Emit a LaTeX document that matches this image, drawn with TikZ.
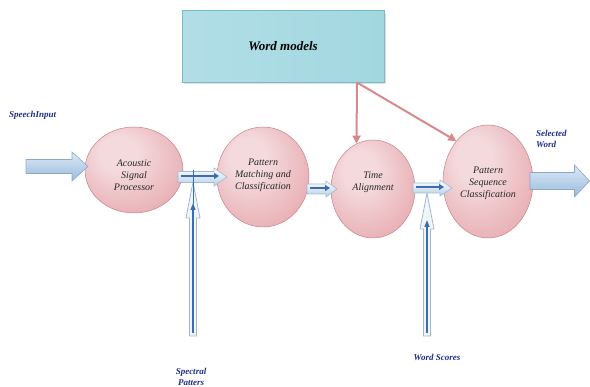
\documentclass[tikz,border=0pt]{standalone}
\usepackage{fontspec}
\setmainfont{Liberation Serif}
\usetikzlibrary{shapes.geometric,arrows.meta,calc}
\definecolor{pk1}{HTML}{F4DADD}
\definecolor{pk2}{HTML}{E8AFB4}
\definecolor{pk3}{HTML}{D4878E}
\definecolor{pkline}{HTML}{C98089}
\definecolor{pkarrow}{HTML}{D9888E}
\definecolor{cy1}{HTML}{86CAD6}
\definecolor{cy2}{HTML}{D6EFF3}
\definecolor{cyline}{HTML}{74BCCB}
\definecolor{bl1}{HTML}{DDEAF6}
\definecolor{bl2}{HTML}{98BBDE}
\definecolor{blline}{HTML}{8AA8C8}
\definecolor{bldark}{HTML}{3B6DB4}
\definecolor{lblue}{HTML}{1E2D8E}
\definecolor{vline}{HTML}{A3B6CC}
\definecolor{vfill}{HTML}{F1F5FA}
\pgfdeclareradialshading{pinkball}{\pgfpoint{-10bp}{12bp}}{color(0bp)=(pk1);color(10bp)=(pk1);color(32bp)=(pk2);color(45bp)=(pk3);color(50bp)=(pk3)}
\newcommand\myblockarrow[6]{%
  \path[#6] ($(#1)+(0,-#3)$) -- ($(#2)+(-#5,-#3)$) -- ($(#2)+(-#5,-#4)$) -- (#2)
    -- ($(#2)+(-#5,#4)$) -- ($(#2)+(-#5,#3)$) -- ($(#1)+(0,#3)$) -- cycle;}
\tikzset{
  ball/.style={ellipse, shading=pinkball, draw=pkline, line width=0.5pt, inner sep=0pt},
  balltext/.style={align=center, font=\fontsize{10}{12}\selectfont\itshape, text=black!85},
  wmbox/.style={rectangle, draw=cyline, line width=0.8pt, left color=cy1!45!cy2, middle color=cy2!70!white, right color=cy1!65!cy2,
    minimum width=202pt, minimum height=72pt, inner sep=0pt, font=\fontsize{13}{15}\selectfont\bfseries\itshape},
  lbl/.style={font=\fontsize{9}{11}\selectfont\bfseries\itshape, text=lblue, inner sep=0pt},
  pkarr/.style={draw=pkarrow, line width=2pt, -{Triangle[width=8pt,length=8pt]}},
  bigarr/.style={draw=blline, line width=0.6pt, top color=bl1, bottom color=bl2},
  smallarr/.style={draw=blline!80, line width=0.6pt, top color=white, bottom color=bl2!70},
  innerarr/.style={draw=bldark, line width=2pt, -{Triangle[width=6pt,length=5pt]}},
  vertarr/.style={draw=vline, line width=0.8pt, fill=vfill},
  vinner/.style={draw=bldark, line width=1.4pt, -{Triangle[width=5pt,length=7pt]}}
}
\begin{document}
\begin{tikzpicture}[x=1pt,y=-1pt]
\useasboundingbox (0,0) rectangle (590,387);
% word models box
\fill[black!12] (184,13) rectangle (385.5,84);
\node[wmbox] (wm) at (283,46.5) {Word models};
% circles
\node[ball, minimum width=98pt, minimum height=86pt] (c1) at (134,170) {};
\node[balltext] (c1t) at (134,175) {Acoustic\\Signal\\Processor};
\node[ball, minimum width=92pt, minimum height=100pt] (c2) at (263,177) {};
\node[balltext] (c2t) at (263,175) {Pattern\\Matching and\\Classification};
\node[ball, minimum width=84pt, minimum height=98pt] (c3) at (373,189) {};
\node[balltext] (c3t) at (373,182) {Time\\Alignment};
\node[ball, minimum width=90pt, minimum height=113pt] (c4) at (488,181.5) {};
\node[balltext] (c4t) at (488,183) {Pattern\\Sequence\\Classification};
% pink connectors
\coordinate (wmo) at (357,82.5);
\draw[pkarr] (wmo) -- (c3.110);
\draw[pkarr] (wmo) -- (c4.128);
% vertical input arrows
\coordinate (spb) at (193,336);
\coordinate (spt) at (193,182);
\path[vertarr] ($(spb)+(-3.5,0)$) -- ($(spt)+(-3.5,36)$) -- ($(spt)+(-7,36)$) -- (spt)
  -- ($(spt)+(7,36)$) -- ($(spt)+(3.5,36)$) -- ($(spb)+(3.5,0)$) -- cycle;
\draw[vinner] ($(spb)+(0,-3)$) -- ($(spt)+(0,21)$);
\coordinate (wsb) at (427,336);
\coordinate (wst) at (427,193);
\path[vertarr] ($(wsb)+(-3.5,0)$) -- ($(wst)+(-3.5,36)$) -- ($(wst)+(-7,36)$) -- (wst)
  -- ($(wst)+(7,36)$) -- ($(wst)+(3.5,36)$) -- ($(wsb)+(3.5,0)$) -- cycle;
\draw[vinner] ($(wsb)+(0,-3)$) -- ($(wst)+(0,27)$);
% flow arrows
\coordinate (a0s) at (26,166.5);
\coordinate (a0e) at (88,166.5);
\myblockarrow{a0s}{a0e}{7}{14.5}{16}{bigarr}
\coordinate (a1s) at (178,177);
\coordinate (a1e) at (227,177);
\myblockarrow{a1s}{a1e}{5.5}{9}{13}{smallarr}
\draw[innerarr] ($(a1s)+(3,-1)$) -- ($(a1e)+(-8,-1)$);
\draw[bldark, line width=0.6pt] ($(spt)+(0,-12)$) -- ($(spt)+(0,22)$);
\coordinate (a2s) at (307,189);
\coordinate (a2e) at (337,189);
\myblockarrow{a2s}{a2e}{5}{8}{11}{smallarr}
\draw[innerarr] ($(a2s)+(3,-1)$) -- ($(a2e)+(-7,-1)$);
\coordinate (a3s) at (413,188);
\coordinate (a3e) at (452,188);
\myblockarrow{a3s}{a3e}{5}{8}{12}{smallarr}
\draw[innerarr] ($(a3s)+(3,-1)$) -- ($(a3e)+(-8,-1)$);
\coordinate (a4s) at (530,181);
\coordinate (a4e) at (589.5,181);
\myblockarrow{a4s}{a4e}{8.5}{16}{15}{bigarr}
% labels
\node[lbl, anchor=west] (si) at (9,115) {SpeechInput};
\node[lbl, align=left, anchor=west] (sw) at (536,139) {Selected\\Word};
\node[lbl, align=center] (sp) at (191,377) {Spectral\\Patters};
\node[lbl] (ws) at (437,357) {Word Scores};
\end{tikzpicture}
\end{document}
